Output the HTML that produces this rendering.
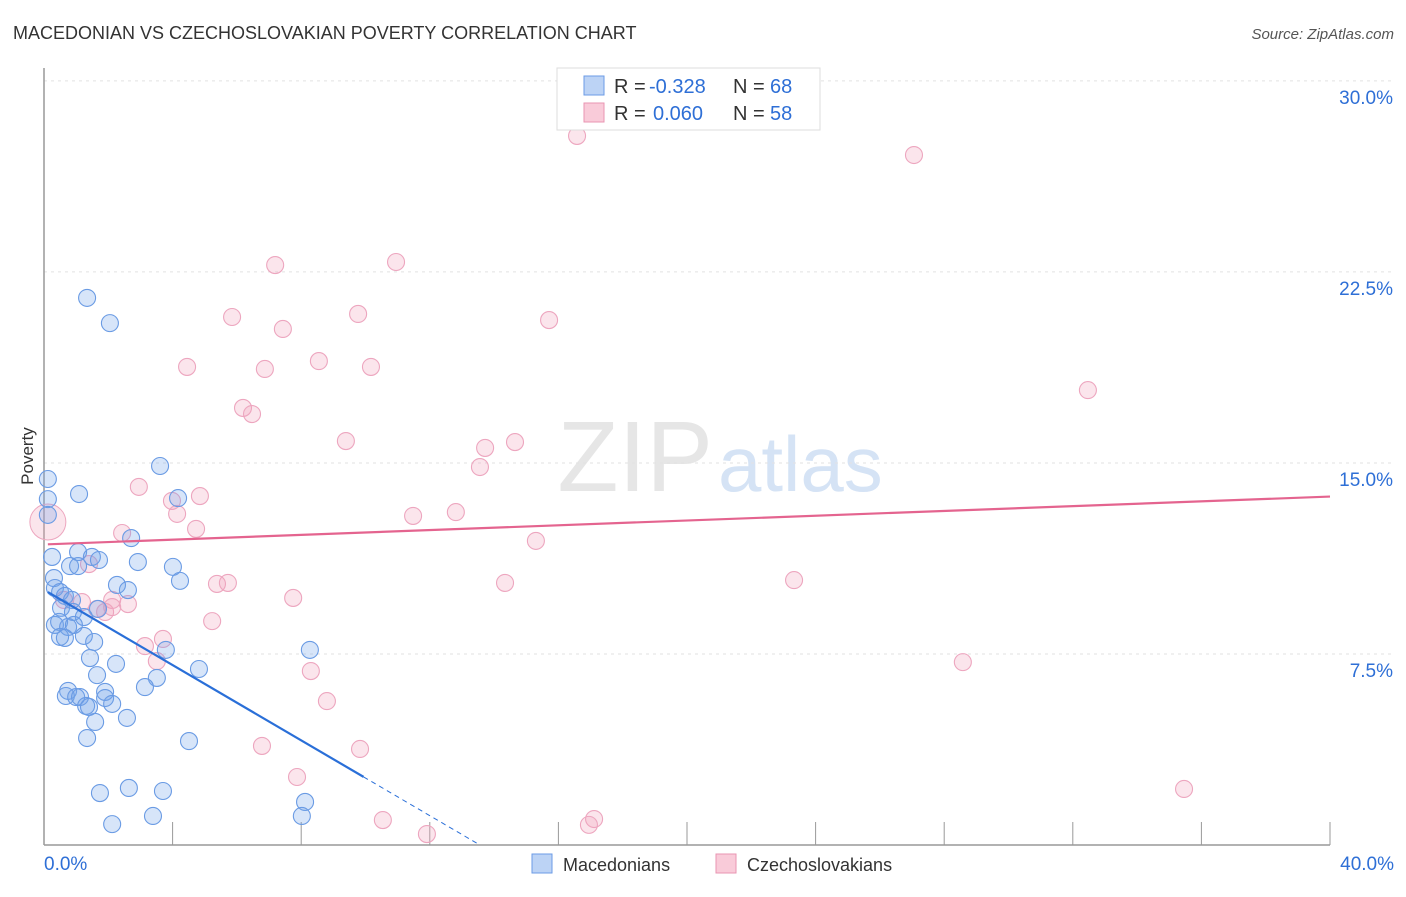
<!DOCTYPE html>
<html><head><meta charset="utf-8"><style>
body{margin:0;background:#fff;font-family:"Liberation Sans",sans-serif}
svg text{font-family:"Liberation Sans",sans-serif}
</style></head><body>
<svg id="chart" width="1406" height="892">
<text x="13" y="39" font-size="18" fill="#333">MACEDONIAN VS CZECHOSLOVAKIAN POVERTY CORRELATION CHART</text>
<text x="1394" y="39" font-size="15" fill="#555" font-style="italic" text-anchor="end">Source: ZipAtlas.com</text>
<text x="713" y="491" font-size="100" fill="#e6e6e6" text-anchor="end" font-family="Liberation Serif">ZIP</text>
<text x="718" y="491" font-size="78" fill="#d5e3f5">atlas</text>
<g id="grid"></g><g id="axes"></g><g id="pts"></g><g id="lines"></g>
<text x="33" y="456" font-size="17" fill="#333" transform="rotate(-90 33 456)" text-anchor="middle">Poverty</text>
<g>
<rect x="557" y="68" width="263" height="62" fill="#fff" stroke="#ddd"/>
<rect x="584" y="76" width="20" height="19" fill="#bcd3f5" stroke="#6b9be6"/>
<rect x="584" y="103" width="20" height="19" fill="#f9cbd9" stroke="#e995b2"/>
<text x="614" y="93" font-size="20" fill="#333">R =</text>
<text x="649" y="93" font-size="20" fill="#2e6fd6">-0.328</text>
<text x="733" y="93" font-size="20" fill="#333">N =</text>
<text x="770" y="93" font-size="20" fill="#2e6fd6">68</text>
<text x="614" y="120" font-size="20" fill="#333">R =</text>
<text x="653" y="120" font-size="20" fill="#2e6fd6">0.060</text>
<text x="733" y="120" font-size="20" fill="#333">N =</text>
<text x="770" y="120" font-size="20" fill="#2e6fd6">58</text>
</g>
<g>
<rect x="532" y="854" width="20" height="19" fill="#bcd3f5" stroke="#6b9be6"/>
<text x="563" y="871" font-size="18" fill="#333">Macedonians</text>
<rect x="716" y="854" width="20" height="19" fill="#f9cbd9" stroke="#e995b2"/>
<text x="747" y="871" font-size="18" fill="#333">Czechoslovakians</text>
</g>
</svg>
<script>
const blueX=[0.12,0.12,0.12,1.34,2.05,3.61,1.09,4.17,2.71,2.92,4.01,4.23,0.25,1.06,1.49,1.71,0.81,1.06,0.31,0.34,2.27,2.61,0.50,0.65,0.87,1.68,0.53,1.24,0.90,0.34,0.47,0.75,0.93,0.50,0.65,1.24,1.56,3.79,8.27,1.43,2.24,4.82,3.51,1.65,3.14,0.75,0.68,1.00,1.12,1.90,1.90,1.31,1.40,2.12,2.58,1.59,1.34,4.51,1.74,2.64,3.70,8.12,8.02,3.39,2.12];
const blueY=[14.37,13.58,12.96,21.48,20.49,14.88,13.78,13.62,12.05,11.11,10.92,10.37,11.31,11.50,11.31,11.19,10.95,10.95,10.48,10.09,10.21,10.01,9.93,9.78,9.62,9.27,9.31,8.95,9.15,8.64,8.76,8.56,8.64,8.17,8.13,8.21,7.97,7.66,7.66,7.34,7.11,6.91,6.56,6.67,6.20,6.05,5.85,5.81,5.81,6.01,5.77,5.46,5.42,5.54,4.99,4.83,4.20,4.08,2.04,2.24,2.12,1.69,1.14,1.14,0.82];
const pinkX=[16.58,27.06,7.19,10.95,5.85,9.77,7.43,15.71,4.45,6.87,8.55,10.17,32.47,6.19,6.47,9.39,13.72,14.65,13.56,2.95,4.85,3.98,4.14,11.48,12.81,4.73,2.43,15.30,1.40,14.34,23.33,5.38,5.72,7.75,0.62,1.18,2.12,2.61,1.65,1.90,5.23,3.14,3.70,3.51,8.30,28.58,8.80,6.78,9.83,7.87,35.46,10.54,17.11,16.95,11.91,2.12];
const pinkY=[27.84,27.09,22.77,22.89,20.73,20.85,20.26,20.61,18.77,18.69,19.00,18.77,17.86,17.16,16.92,15.86,15.59,15.82,14.84,14.06,13.70,13.51,13.00,12.92,13.07,12.41,12.25,11.94,11.03,10.29,10.40,10.25,10.29,9.70,9.62,9.54,9.62,9.46,9.27,9.15,8.79,7.81,8.09,7.22,6.83,7.18,5.65,3.89,3.77,2.67,2.20,0.98,1.02,0.79,0.43,9.34];
const bigPink=[0.12,12.68];
const yTicks=[7.5,15,22.5,30];
const xTickVals=[4,8,12,16,20,24,28,32,36,40];
const blueTrend=[10.02,-0.739,0.12,9.94,13.56];
const pinkTrend=[11.8,0.047,0.12,40];
const sx=v=>44+v*32.15, sy=v=>845-v*25.47;
const NS="http://www.w3.org/2000/svg";
function mk(p,t,a){const e=document.createElementNS(NS,t);for(const k in a)e.setAttribute(k,a[k]);p.appendChild(e);return e;}
const grid=document.getElementById('grid'),axes=document.getElementById('axes'),pts=document.getElementById('pts'),lines=document.getElementById('lines');
yTicks.forEach(v=>{const g=mk(grid,'line',{x1:44,x2:1394,y1:sy(v),y2:sy(v),stroke:'#e2e2e2','stroke-dasharray':'3,4'});


const t=mk(axes,'text',{x:1393,y:sy(v)+23,'font-size':19,fill:'#2e6fd6','text-anchor':'end'});t.textContent=v.toFixed(1)+'%';

});
const ax=mk(axes,'line',{x1:44,x2:44,y1:68,y2:845,stroke:'#999','stroke-width':1.5});


const bx=mk(axes,'line',{x1:44,x2:1330,y1:845,y2:845,stroke:'#999','stroke-width':1.5});


xTickVals.forEach(v=>{const l=mk(axes,'line',{x1:sx(v),x2:sx(v),y1:845,y2:822,stroke:'#999'});

});
const t0=mk(axes,'text',{x:44,y:870,'font-size':19,fill:'#2e6fd6'});t0.textContent='0.0%';


const t1=mk(axes,'text',{x:1394,y:870,'font-size':19,fill:'#2e6fd6','text-anchor':'end'});t1.textContent='40.0%';


pinkX.forEach((x,i)=>{const c=mk(pts,'circle',{cx:sx(x),cy:sy(pinkY[i]),r:8.5,fill:'rgba(242,160,188,0.28)',stroke:'#eda6bf','stroke-width':1.1});

});
const bp=mk(pts,'circle',{cx:sx(bigPink[0]),cy:sy(bigPink[1]),r:18,fill:'rgba(242,160,188,0.28)',stroke:'#eda6bf'});


blueX.forEach((x,i)=>{const c=mk(pts,'circle',{cx:sx(x),cy:sy(blueY[i]),r:8.5,fill:'rgba(110,160,235,0.28)',stroke:'#6a9be4','stroke-width':1.1});

});
const bt=v=>blueTrend[0]+blueTrend[1]*v;
const b1=mk(lines,'line',{x1:sx(blueTrend[2]),y1:sy(bt(blueTrend[2])),x2:sx(blueTrend[3]),y2:sy(bt(blueTrend[3])),stroke:'#2a6fd8','stroke-width':2.2});


const b2=mk(lines,'line',{x1:sx(blueTrend[3]),y1:sy(bt(blueTrend[3])),x2:sx(blueTrend[4]),y2:sy(bt(blueTrend[4])),stroke:'#2a6fd8','stroke-width':1,'stroke-dasharray':'5,4'});


const pt=v=>pinkTrend[0]+pinkTrend[1]*v;
const p1=mk(lines,'line',{x1:sx(pinkTrend[2]),y1:sy(pt(pinkTrend[2])),x2:sx(pinkTrend[3]),y2:sy(pt(pinkTrend[3])),stroke:'#e4648f','stroke-width':2.2});


</script>
</body></html>
